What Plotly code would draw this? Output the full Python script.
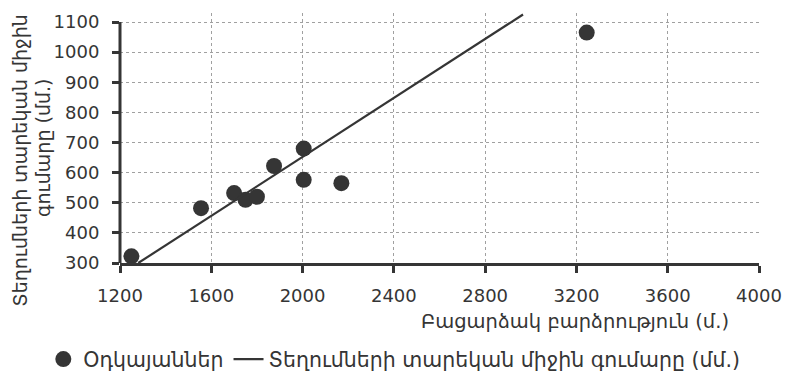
import plotly.graph_objects as go

# ---- data ----
station_altitude = [1250, 1555, 1700, 1750, 1800, 1875, 2005, 2005, 2170, 3245]
station_precip = [322, 482, 532, 510, 520, 622, 680, 576, 565, 1065]
trend_altitude = [1280, 2966]
trend_precip = [300, 1125]
x_ticks = [1200, 1600, 2000, 2400, 2800, 3200, 3600, 4000]
y_ticks = [300, 400, 500, 600, 700, 800, 900, 1000, 1100]

legend_points = "Օդկայաններ"
legend_line = "Տեղումների տարեկան միջին գումարը (մմ.)"
x_title = "Բացարձակ բարձրություն (մ.)"
y_title_1 = "Տեղումների տարեկան միջին"
y_title_2 = "գումարը (մմ.)"

INK = "#353535"
FONT = "DejaVu Sans, sans-serif"

fig = go.Figure()
fig.add_trace(go.Scatter(
    x=station_altitude, y=station_precip, mode="markers", name=legend_points,
    marker=dict(size=16, color=INK), cliponaxis=False,
))
fig.add_trace(go.Scatter(
    x=trend_altitude, y=trend_precip, mode="lines", name=legend_line,
    line=dict(color=INK, width=2.2),
))

grid = dict(showgrid=True, gridcolor="#a0a0a0", gridwidth=1, griddash="dot")

fig.update_xaxes(
    range=[x_ticks[0], x_ticks[-1]], tickvals=x_ticks, ticks="outside", ticklen=7,
    tickwidth=2.5, tickcolor=INK, showline=True, linewidth=3, linecolor=INK,
    tickfont=dict(size=18, color=INK, family=FONT), ticklabelstandoff=7,
    zeroline=False, **grid,
)
fig.update_yaxes(
    range=[y_ticks[0], 1130], tickvals=y_ticks, ticks="outside", ticklen=7,
    tickwidth=2.5, tickcolor=INK, showline=False,
    tickfont=dict(size=18, color=INK, family=FONT), ticklabelstandoff=9,
    zeroline=False, **grid,
)

fig.add_shape(type="line", xref="paper", yref="y", x0=0, x1=0,
              y0=y_ticks[0], y1=y_ticks[-1], line=dict(color=INK, width=3))

fig.add_annotation(text=x_title, xref="paper", yref="paper", x=0.712, y=-0.235,
                   xanchor="center", yanchor="middle",
                   showarrow=False, font=dict(size=19.5, color=INK, family=FONT))
fig.add_annotation(text=y_title_1, xref="paper", yref="paper", x=-0.1565, y=0.413,
                   xanchor="center", yanchor="middle",
                   textangle=-90, showarrow=False, font=dict(size=19, color=INK, family=FONT))
fig.add_annotation(text=y_title_2, xref="paper", yref="paper", x=-0.1205, y=0.46,
                   xanchor="center", yanchor="middle",
                   textangle=-90, showarrow=False, font=dict(size=19, color=INK, family=FONT))

fig.update_layout(
    width=786, height=373,
    margin=dict(l=120, r=27, t=13, b=110, autoexpand=False),
    paper_bgcolor="white", plot_bgcolor="white",
    font=dict(family=FONT, color=INK, size=20),
    showlegend=True,
    legend=dict(orientation="h", x=-0.12, xanchor="left", y=-0.385, yanchor="middle",
                font=dict(size=20.5, color=INK, family=FONT), itemwidth=30,
                bgcolor="rgba(0,0,0,0)"),
)

fig.write_html("out.html", config={"displayModeBar": False},
               post_script="document.body.style.margin='0';document.body.style.overflow='hidden';")
